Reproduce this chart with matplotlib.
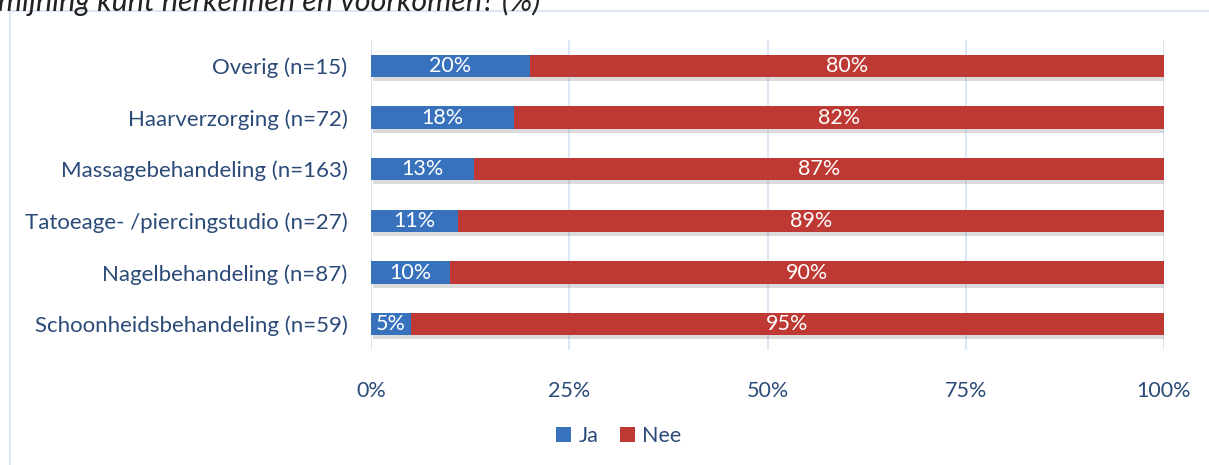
import matplotlib.pyplot as plt
import matplotlib.patheffects as pe
from matplotlib.patches import Rectangle
import numpy as np

categories = ['Schoonheidsbehandeling (n=59)', 'Nagelbehandeling (n=87)',
              'Tatoeage- /piercingstudio (n=27)', 'Massagebehandeling (n=163)',
              'Haarverzorging (n=72)', 'Overig (n=15)']
ja = [5, 10, 11, 13, 18, 20]
nee = [95, 90, 89, 87, 82, 80]
ticks = [0, 25, 50, 75, 100]
tick_labels = ['0%', '25%', '50%', '75%', '100%']

blue = '#3872bd'
red = '#bf3934'
txt = '#2b4a78'
grid = '#d6e3f3'

plt.rcParams['font.family'] = ['Lato', 'DejaVu Sans']

fig = plt.figure(figsize=[12.09, 4.65], dpi=100)
W, H = 1209, 465

# chart area border
fig.patches.append(Rectangle((10 / W, -0.05), 1.2, 1 - 11 / H + 0.05,
                             transform=fig.transFigure, fill=False,
                             edgecolor=grid, linewidth=1.2))

# clipped title at the very top
fig.text(-0.002, 1 - 1 / H, 'mijning kunt herkennen en voorkomen? (%)',
         fontsize=22, style='italic', color='#222222', ha='left', va='center')

ax = fig.add_axes([371 / W, 1 - 350 / H, (1164 - 371) / W, (350 - 40) / H])

y = np.arange(len(categories))
shadow = [pe.SimplePatchShadow(offset=(1.5, -3), shadow_rgbFace='#888888', alpha=0.3), pe.Normal()]
b1 = ax.barh(y, ja, height=0.43, color=blue, label='Ja', path_effects=shadow, zorder=3)
b2 = ax.barh(y, nee, left=ja, height=0.43, color=red, label='Nee', path_effects=shadow, zorder=3)

for i in range(len(categories)):
    ax.text(ja[i] / 2, y[i], f'{ja[i]}%', color='white', ha='center', va='center',
            fontsize=15.5, zorder=4)
    ax.text(ja[i] + nee[i] / 2, y[i], f'{nee[i]}%', color='white', ha='center',
            va='center', fontsize=15.5, zorder=4)

ax.set_xlim(0, 100)
ax.set_ylim(-0.5, len(categories) - 0.5)
ax.set_xticks(ticks)
ax.set_xticklabels(tick_labels)
ax.set_yticks(y)
ax.set_yticklabels(categories)
ax.tick_params(axis='x', length=0, labelsize=15.5, colors=txt, pad=22)
ax.tick_params(axis='y', length=0, labelsize=16, colors=txt, pad=17)
for t in ax.get_xticklabels() + ax.get_yticklabels():
    t.set_color(txt)
ax.grid(axis='x', color=grid, linewidth=1.2, zorder=0)
ax.set_axisbelow(True)
for s in ax.spines.values():
    s.set_visible(False)

leg = fig.legend(handles=[b1, b2], loc='center', bbox_to_anchor=(619 / W, 1 - 436 / H),
                 ncol=2, frameon=False, fontsize=15.5, handlelength=0.68, handleheight=0.68,
                 handletextpad=0.35, columnspacing=1.0)
for t in leg.get_texts():
    t.set_color(txt)
for h in leg.legend_handles:
    h.set_path_effects([])

fig.savefig('out.png', dpi=100)
